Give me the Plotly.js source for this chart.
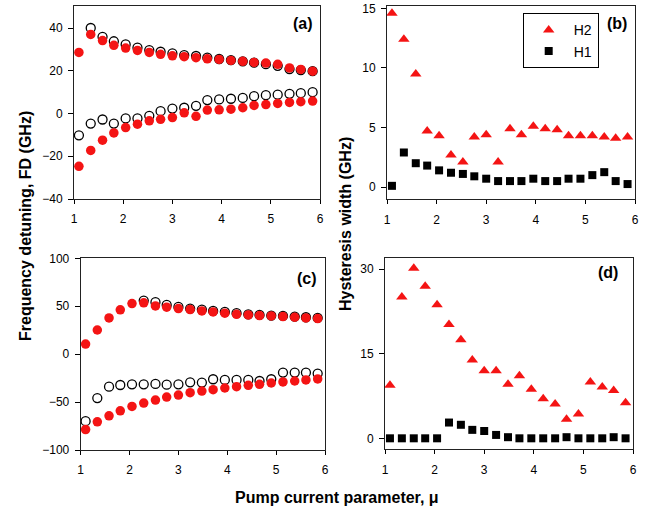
<!DOCTYPE html>
<html>
<head>
<meta charset="utf-8">
<script src="https://cdn.plot.ly/plotly-3.0.1.min.js"></script>
<style>html,body{margin:0;padding:0;background:#fff;}#chart{width:658px;height:515px;}</style>
</head>
<body>
<div id="chart"></div>
<script>
// Pump current parameter values (shared by all panels)
const mu = [1.10, 1.34, 1.58, 1.81, 2.05, 2.29, 2.53, 2.76, 3.00, 3.24, 3.48, 3.71, 3.95, 4.19, 4.43, 4.66, 4.90, 5.14, 5.38, 5.61, 5.85];
const muFrom134 = mu.slice(1);
const muFrom229 = mu.slice(5);

// Panel (a): frequency detuning (GHz)
const aRedUpper   = [28.6, 37.0, 34.1, 31.9, 30.6, 29.5, 28.6, 27.7, 27.0, 26.6, 26.1, 25.6, 25.3, 24.8, 24.4, 23.9, 23.6, 23.0, 21.3, 20.6, 19.8];
const aOpenUpper  = [40.0, 35.9, 33.8, 32.3, 30.8, 29.7, 28.9, 28.1, 27.3, 26.9, 26.1, 25.5, 25.0, 24.4, 23.8, 23.1, 22.3, 20.8, 20.3, 19.8];
const aOpenLower  = [-10.2, -4.7, -2.8, -4.7, -2.3, -2.3, -1.1, 1.1, 2.3, 2.7, 3.6, 6.3, 6.6, 6.9, 7.3, 8.1, 8.6, 8.8, 9.2, 9.5, 10.0];
const aRedLower   = [-24.7, -17.3, -12.5, -9.1, -6.6, -5.0, -3.4, -2.7, -1.9, 0.3, -1.3, 1.6, 1.7, 2.0, 2.7, 3.8, 4.2, 4.7, 5.2, 5.5, 5.8];

// Panel (b): hysteresis width (GHz)
const bH2 = [14.6, 12.4, 9.5, 4.7, 4.3, 2.7, 2.1, 4.2, 4.4, 2.1, 4.9, 4.4, 5.1, 4.9, 4.8, 4.3, 4.3, 4.3, 4.2, 4.1, 4.2];
const bH1 = [0.1, 2.9, 2.0, 1.8, 1.4, 1.2, 1.1, 0.9, 0.7, 0.5, 0.5, 0.5, 0.7, 0.5, 0.5, 0.7, 0.7, 1.0, 1.25, 0.5, 0.25];

// Panel (c): frequency detuning (GHz)
const cRedUpper  = [10.5, 25.2, 37.8, 46.2, 52.8, 53.5, 50.3, 49.0, 47.6, 46.5, 45.1, 44.1, 42.7, 41.6, 40.9, 40.2, 39.9, 39.2, 38.5, 37.8, 37.1];
const cOpenUpper = [55.9, 54.2, 51.4, 49.3, 47.6, 46.5, 45.1, 44.1, 42.7, 41.6, 40.9, 40.2, 39.9, 39.2, 38.5, 37.8];
const cOpenLower = [-69.9, -45.8, -33.9, -32.2, -31.5, -31.5, -31.1, -31.8, -31.5, -29.4, -29.7, -26.2, -26.9, -26.9, -26.9, -28.0, -26.2, -19.2, -19.2, -19.2, -20.3];
const cRedLower  = [-78.7, -70.6, -64.3, -59.1, -54.5, -51.0, -47.9, -44.8, -42.7, -40.2, -38.5, -37.1, -35.3, -33.9, -32.5, -31.5, -30.1, -29.0, -28.0, -26.9, -25.9];

// Panel (d): hysteresis width (GHz)
const dH2 = [9.4, 25.1, 30.2, 27.0, 23.7, 20.2, 17.5, 13.9, 12.0, 12.0, 9.6, 11.1, 8.7, 7.0, 6.1, 3.4, 4.3, 10.0, 9.1, 8.5, 6.3];
const dH1 = [0, 0, 0, 0, 0, 2.8, 2.4, 1.5, 1.3, 0.6, 0.2, 0, 0, 0, 0, 0.2, 0, 0, 0, 0.2, 0];

// Tick labels
const xTicks = [1, 2, 3, 4, 5, 6];
const aTicks = [-40, -20, 0, 20, 40];
const bTicks = [0, 5, 10, 15];
const cTicks = [-100, -50, 0, 50, 100];
const dTicks = [0, 15, 30];

const RED = '#f41414';
const openM = {symbol: 'circle-open', size: 9, color: '#000', line: {width: 1.3, color: '#000'}};
const redM = {symbol: 'circle', size: 9.5, color: RED};
const triM = {symbol: 'triangle-up', size: 10, color: RED};
const sqM = {symbol: 'square', size: 8, color: '#000'};

function sc(x, y, xa, ya, marker, name, show) {
  return {x: x, y: y, xaxis: xa, yaxis: ya, type: 'scatter', mode: 'markers', marker: marker,
          name: name || '', showlegend: !!show, hoverinfo: 'skip', cliponaxis: false};
}

const data = [
  sc(muFrom134, aOpenUpper, 'x', 'y', openM),
  sc(mu, aOpenLower, 'x', 'y', openM),
  sc(mu, aRedUpper, 'x', 'y', redM),
  sc(mu, aRedLower, 'x', 'y', redM),
  sc(mu, bH2, 'x2', 'y2', triM, 'H2', true),
  sc(mu, bH1, 'x2', 'y2', sqM, 'H1', true),
  sc(muFrom229, cOpenUpper, 'x3', 'y3', openM),
  sc(mu, cOpenLower, 'x3', 'y3', openM),
  sc(mu, cRedUpper, 'x3', 'y3', redM),
  sc(mu, cRedLower, 'x3', 'y3', redM),
  sc(mu, dH2, 'x4', 'y4', triM),
  sc(mu, dH1, 'x4', 'y4', sqM)
];

const W = 658, H = 515;
function dx(a, b) { return [a / W, b / W]; }
function dy(top, bottom) { return [1 - bottom / H, 1 - top / H]; }

const tickFont = {family: 'Liberation Sans, Arial, sans-serif', size: 12, color: '#000'};
function xax(dom, anchor) {
  return {domain: dom, anchor: anchor, range: [1, 6], tickvals: xTicks, ticks: 'outside', ticklen: 4,
          tickcolor: '#000', showline: true, linecolor: '#222', linewidth: 1, mirror: true,
          showgrid: false, zeroline: false, tickfont: tickFont, automargin: false, ticklabelstandoff: 5, fixedrange: true};
}
function yax(dom, anchor, range, ticks) {
  return {domain: dom, anchor: anchor, range: range, tickvals: ticks, ticks: 'outside', ticklen: 5,
          tickcolor: '#000', showline: true, linecolor: '#222', linewidth: 1, mirror: true,
          showgrid: false, zeroline: false, tickfont: tickFont, automargin: false, ticklabelstandoff: 3, fixedrange: true};
}

const titleFont = {family: 'Liberation Sans, Arial, sans-serif', size: 16, color: '#000', weight: 'bold'};
const labelFont = {family: 'Liberation Sans, Arial, sans-serif', size: 16, color: '#000', weight: 'bold'};

const layout = {
  width: W, height: H,
  margin: {l: 0, r: 0, t: 0, b: 0},
  paper_bgcolor: '#fff', plot_bgcolor: '#fff',
  xaxis:  xax(dx(74, 320), 'y'),
  yaxis:  yax(dy(6, 199), 'x', [-40, 50.3], aTicks),
  xaxis2: xax(dx(387, 635), 'y2'),
  yaxis2: yax(dy(6, 199.3), 'x2', [-1.03, 15.2], bTicks),
  xaxis3: xax(dx(80.7, 325), 'y3'),
  yaxis3: yax(dy(258.3, 450), 'x3', [-100, 100], cTicks),
  xaxis4: xax(dx(385, 633), 'y4'),
  yaxis4: yax(dy(258.3, 449.3), 'x4', [-1.95, 31.95], dTicks),
  showlegend: true,
  legend: {x: 522.7 / W, y: 1 - 13.3 / H, xanchor: 'left', yanchor: 'top', bgcolor: '#fff',
           bordercolor: '#000', borderwidth: 1, font: {family: 'Liberation Sans, Arial, sans-serif', size: 14, color: '#000'},
           itemwidth: 40, tracegroupgap: 0},
  annotations: [
    {text: 'Frequency detuning, FD (GHz)', x: 25 / W, y: 1 - 226 / H, xref: 'paper', yref: 'paper', textangle: -90, showarrow: false, font: titleFont, xanchor: 'center', yanchor: 'middle'},
    {text: 'Hysteresis width (GHz)', x: 346 / W, y: 1 - 224 / H, xref: 'paper', yref: 'paper', textangle: -90, showarrow: false, font: titleFont, xanchor: 'center', yanchor: 'middle'},
    {text: 'Pump current parameter, μ', x: 337 / W, y: 1 - 497 / H, xref: 'paper', yref: 'paper', showarrow: false, font: titleFont, xanchor: 'center', yanchor: 'middle'},
    {text: '(a)', x: 303 / W, y: 1 - 23 / H, xref: 'paper', yref: 'paper', showarrow: false, font: labelFont, xanchor: 'center', yanchor: 'middle'},
    {text: '(b)', x: 617 / W, y: 1 - 23 / H, xref: 'paper', yref: 'paper', showarrow: false, font: labelFont, xanchor: 'center', yanchor: 'middle'},
    {text: '(c)', x: 307 / W, y: 1 - 278 / H, xref: 'paper', yref: 'paper', showarrow: false, font: labelFont, xanchor: 'center', yanchor: 'middle'},
    {text: '(d)', x: 608 / W, y: 1 - 272 / H, xref: 'paper', yref: 'paper', showarrow: false, font: labelFont, xanchor: 'center', yanchor: 'middle'}
  ]
};

Plotly.newPlot('chart', data, layout, {displayModeBar: false, staticPlot: true});
</script>
</body>
</html>
